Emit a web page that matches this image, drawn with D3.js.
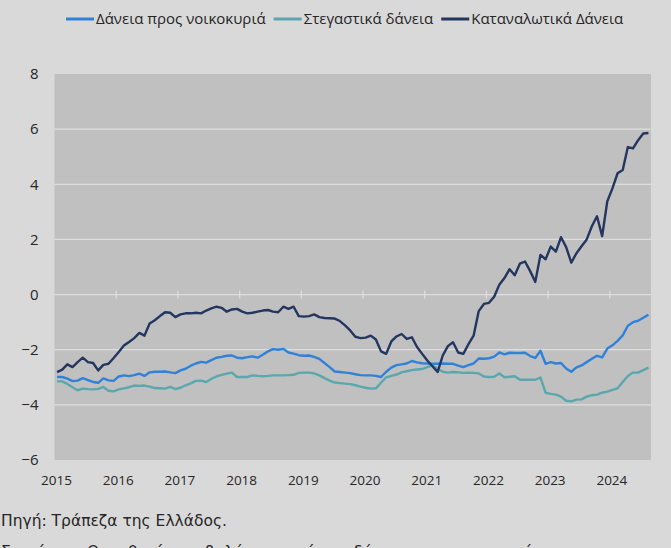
<!DOCTYPE html>
<html>
<head>
<meta charset="utf-8">
<script src="https://cdn.jsdelivr.net/npm/d3@7"></script>
<style>
  html, body { margin: 0; padding: 0; background: #d9d9d9; overflow: hidden; }
  svg { display: block; }
  text { font-family: "Open Sans", sans-serif; fill: #262626; }
</style>
</head>
<body>
<div id="chart"></div>
<script>
// monthly annual growth rates (%), Jan 2015 - Aug 2024
var seriesNames = ["Δάνεια προς νοικοκυριά", "Στεγαστικά δάνεια", "Καταναλωτικά Δάνεια"];
var seriesColors = ["#2f82d8", "#5aa7ae", "#23365f"];
var years = [2015, 2016, 2017, 2018, 2019, 2020, 2021, 2022, 2023, 2024];
var yTicks = [-6, -4, -2, 0, 2, 4, 6, 8];

var households = [
  -2.99, -2.99, -3.05, -3.14, -3.12, -3.03, -3.10, -3.17, -3.20, -3.04, -3.11, -3.13,
  -2.97, -2.93, -2.96, -2.92, -2.87, -2.95, -2.82, -2.80, -2.80, -2.79, -2.82, -2.85,
  -2.75, -2.69, -2.58, -2.50, -2.44, -2.47, -2.38, -2.29, -2.26, -2.22, -2.21, -2.29,
  -2.31, -2.27, -2.24, -2.29, -2.18, -2.06, -1.98, -2.00, -1.97, -2.10, -2.14, -2.20,
  -2.22, -2.21, -2.26, -2.33, -2.48, -2.63, -2.79, -2.81, -2.83, -2.85, -2.89, -2.92,
  -2.93, -2.93, -2.95, -2.99, -2.80, -2.65, -2.56, -2.53, -2.50, -2.41, -2.46, -2.49,
  -2.50, -2.51, -2.51, -2.50, -2.51, -2.51, -2.58, -2.63, -2.56, -2.50, -2.32, -2.33,
  -2.31, -2.25, -2.10, -2.17, -2.11, -2.12, -2.12, -2.11, -2.23, -2.30, -2.04, -2.51,
  -2.45, -2.50, -2.48, -2.68, -2.80, -2.64, -2.57, -2.45, -2.33, -2.22, -2.28, -1.96,
  -1.84, -1.68, -1.48, -1.13, -1.00, -0.95, -0.84, -0.73
];

var housing = [
  -3.15, -3.15, -3.24, -3.36, -3.47, -3.41, -3.43, -3.44, -3.42, -3.35, -3.49, -3.51,
  -3.44, -3.40, -3.36, -3.30, -3.31, -3.30, -3.34, -3.39, -3.40, -3.41, -3.35, -3.43,
  -3.38, -3.29, -3.22, -3.13, -3.12, -3.17, -3.06, -2.97, -2.91, -2.87, -2.83, -2.99,
  -2.99, -2.99, -2.93, -2.95, -2.96, -2.95, -2.93, -2.93, -2.93, -2.92, -2.91, -2.84,
  -2.83, -2.83, -2.86, -2.93, -3.03, -3.12, -3.19, -3.21, -3.23, -3.25, -3.29, -3.34,
  -3.38, -3.41, -3.40, -3.20, -3.00, -2.95, -2.90, -2.82, -2.78, -2.74, -2.72, -2.70,
  -2.63, -2.57, -2.69, -2.80, -2.83, -2.81, -2.82, -2.84, -2.83, -2.84, -2.86, -2.97,
  -2.99, -2.98, -2.86, -3.00, -2.98, -2.96, -3.09, -3.09, -3.09, -3.09, -3.01, -3.56,
  -3.60, -3.63, -3.70, -3.85, -3.87, -3.81, -3.80, -3.70, -3.65, -3.63, -3.56, -3.52,
  -3.46, -3.40, -3.17, -2.95, -2.83, -2.83, -2.74, -2.65
];

var consumer = [
  -2.81, -2.72, -2.53, -2.63, -2.45, -2.29, -2.45, -2.48, -2.75, -2.55, -2.51, -2.30,
  -2.08, -1.85, -1.72, -1.58, -1.39, -1.49, -1.05, -0.93, -0.78, -0.64, -0.66, -0.82,
  -0.72, -0.68, -0.68, -0.66, -0.68, -0.58, -0.50, -0.44, -0.48, -0.62, -0.54, -0.52,
  -0.62, -0.68, -0.66, -0.62, -0.58, -0.56, -0.62, -0.64, -0.44, -0.52, -0.44, -0.78,
  -0.80, -0.78, -0.72, -0.82, -0.85, -0.86, -0.87, -0.96, -1.12, -1.30, -1.53, -1.58,
  -1.56, -1.49, -1.63, -2.06, -2.15, -1.70, -1.52, -1.43, -1.61, -1.55, -1.90, -2.15,
  -2.39, -2.60, -2.81, -2.21, -1.87, -1.73, -2.10, -2.15, -1.80, -1.49, -0.60, -0.34,
  -0.30, -0.08, 0.36, 0.60, 0.92, 0.70, 1.12, 1.20, 0.85, 0.46, 1.44, 1.28,
  1.74, 1.56, 2.08, 1.72, 1.16, 1.50, 1.75, 2.00, 2.48, 2.84, 2.12, 3.38,
  3.85, 4.40, 4.52, 5.35, 5.30, 5.60, 5.84, 5.86
];

var months = d3.timeMonth.range(new Date(2015, 0, 1), new Date(2024, 8, 1));
var allSeries = [households, housing, consumer];

var width = 671, height = 548;
var plot = { left: 54.5, right: 651, top: 74, bottom: 460 };

var svg = d3.select("#chart").append("svg")
  .attr("width", width)
  .attr("height", height);

svg.append("rect")
  .attr("width", width).attr("height", height)
  .attr("fill", "#d9d9d9");

var x = d3.scaleBand()
  .domain(months)
  .range([plot.left, plot.right]);

var y = d3.scaleLinear()
  .domain([-6, 8])
  .range([plot.bottom, plot.top]);

// plot area
svg.append("rect")
  .attr("x", plot.left).attr("y", plot.top)
  .attr("width", plot.right - plot.left)
  .attr("height", plot.bottom - plot.top)
  .attr("fill", "#c0c0c0");

// horizontal gridlines
svg.append("g")
  .selectAll("line")
  .data(yTicks.filter(function(d) { return d > -6 && d < 8; }))
  .enter().append("line")
  .attr("x1", plot.left).attr("x2", plot.right)
  .attr("y1", function(d) { return y(d); })
  .attr("y2", function(d) { return y(d); })
  .attr("stroke", "#dedede")
  .attr("stroke-width", 1.3);

// year tick marks crossing the zero line
var yearStarts = years.map(function(yr) { return new Date(yr, 0, 1); });
svg.append("g")
  .selectAll("line")
  .data(yearStarts.slice(1))
  .enter().append("line")
  .attr("x1", function(d) { return x(d); })
  .attr("x2", function(d) { return x(d); })
  .attr("y1", y(0) - 4).attr("y2", y(0) + 4)
  .attr("stroke", "#dedede")
  .attr("stroke-width", 1.3);

// y axis labels
var yAxis = svg.append("g")
  .attr("transform", "translate(" + plot.left + ",0)")
  .call(d3.axisLeft(y).tickValues(yTicks).tickSize(0).tickPadding(16).tickFormat(d3.format("d")));
yAxis.select(".domain").remove();
yAxis.selectAll("text")
  .style("font-family", "'Open Sans', sans-serif")
  .style("font-size", "15px")
  .attr("fill", "#262626");

// x axis labels (year)
svg.append("g")
  .selectAll("text")
  .data(yearStarts)
  .enter().append("text")
  .attr("x", function(d) { return x(d) + 2; })
  .attr("y", 485)
  .attr("text-anchor", "middle")
  .style("font-size", "13.5px")
  .text(function(d) { return d.getFullYear(); });

// lines
var line = d3.line()
  .x(function(d, i) { return x(months[i]) + x.bandwidth() / 2; })
  .y(function(d) { return y(d); });

svg.append("g")
  .selectAll("path")
  .data(allSeries)
  .enter().append("path")
  .attr("d", line)
  .attr("fill", "none")
  .attr("stroke", function(d, i) { return seriesColors[i]; })
  .attr("stroke-width", 2.4)
  .attr("stroke-linejoin", "round");

// legend
var legend = svg.append("g");
var lx = 66;
seriesNames.forEach(function(name, i) {
  legend.append("line")
    .attr("x1", lx).attr("x2", lx + 28)
    .attr("y1", 19).attr("y2", 19)
    .attr("stroke", seriesColors[i])
    .attr("stroke-width", 3);
  var t = legend.append("text")
    .attr("x", lx + 30)
    .attr("y", 24)
    .style("font-size", "15px")
    .text(name);
  lx += 30 + t.node().getComputedTextLength() + 8;
});

// source and (cut-off) note
svg.append("text")
  .attr("x", 1)
  .attr("y", 526)
  .style("font-family", "'DejaVu Sans', sans-serif")
  .style("font-size", "15.5px")
  .attr("fill", "#000")
  .text("Πηγή: Τράπεζα της Ελλάδος.");

svg.append("text")
  .attr("x", 1)
  .attr("y", 557)
  .style("font-family", "'DejaVu Sans', sans-serif")
  .style("font-size", "15.5px")
  .attr("fill", "#000")
  .text("Σημείωση: Οι ρυθμοί μεταβολής αφορούν τα δάνεια των νοικοκυριών.");
</script>
</body>
</html>
